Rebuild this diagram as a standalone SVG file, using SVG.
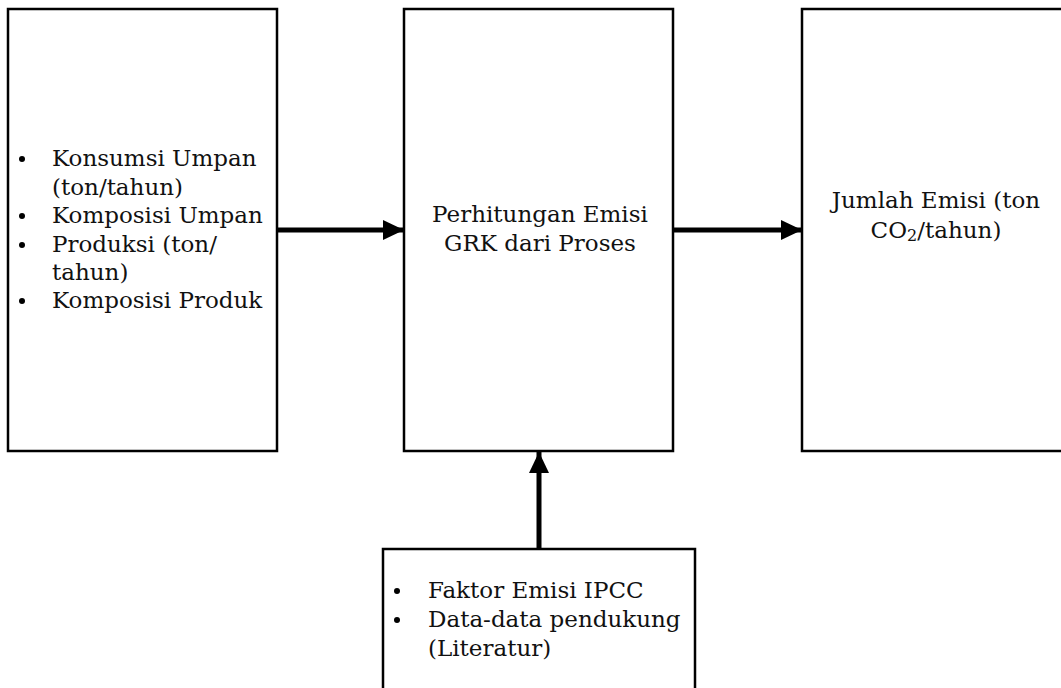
<svg xmlns="http://www.w3.org/2000/svg" width="1061" height="688" viewBox="0 0 1061 688">
<style>
.box{fill:#fff;stroke:#000;stroke-width:2.5}
.t{font-family:"DejaVu Serif","Liberation Serif",serif;font-size:23px;fill:#111}
.c{text-anchor:middle}
.conn{stroke:#000;stroke-width:5;fill:none}
</style>
<defs>
<marker id="ah" markerUnits="userSpaceOnUse" markerWidth="22" markerHeight="22" refX="21" refY="10" orient="auto">
<path d="M0,0 L21,10 L0,20 Z" fill="#000"/>
</marker>
</defs>
<rect width="1061" height="688" fill="#fff"/>
<g id="input">
<rect class="box" x="8" y="9" width="269" height="442"/>
<g class="t">
<circle cx="22" cy="159" r="3" fill="#000"/>
<text x="52" y="166">Konsumsi Umpan</text>
<text x="52" y="195">(ton/tahun)</text>
<circle cx="22" cy="216" r="3" fill="#000"/>
<text x="52" y="223">Komposisi Umpan</text>
<circle cx="22" cy="245" r="3" fill="#000"/>
<text x="52" y="252">Produksi (ton/</text>
<text x="52" y="280">tahun)</text>
<circle cx="22" cy="301" r="3" fill="#000"/>
<text x="52" y="308">Komposisi Produk</text>
</g>
</g>
<g id="process">
<rect class="box" x="404" y="9" width="269" height="442"/>
<text class="t c" x="540" y="222">Perhitungan Emisi</text>
<text class="t c" x="540" y="251">GRK dari Proses</text>
</g>
<g id="output">
<rect class="box" x="802" y="9" width="264" height="442"/>
<text class="t c" x="936" y="208">Jumlah Emisi (ton</text>
<text class="t c" x="936" y="238">CO<tspan font-size="16" dy="3">2</tspan><tspan dy="-3">/tahun)</tspan></text>
</g>
<g id="factors">
<rect class="box" x="383" y="549" width="312" height="150"/>
<g class="t">
<circle cx="397" cy="591" r="3" fill="#000"/>
<text x="428" y="598">Faktor Emisi IPCC</text>
<circle cx="397" cy="620" r="3" fill="#000"/>
<text x="428" y="627">Data-data pendukung</text>
<text x="428" y="656">(Literatur)</text>
</g>
</g>
<g id="connectors">
<line class="conn" x1="277" y1="230" x2="404" y2="230" marker-end="url(#ah)"/>
<line class="conn" x1="673" y1="230" x2="802" y2="230" marker-end="url(#ah)"/>
<line class="conn" x1="539" y1="549" x2="539" y2="452" marker-end="url(#ah)"/>
</g>
</svg>
